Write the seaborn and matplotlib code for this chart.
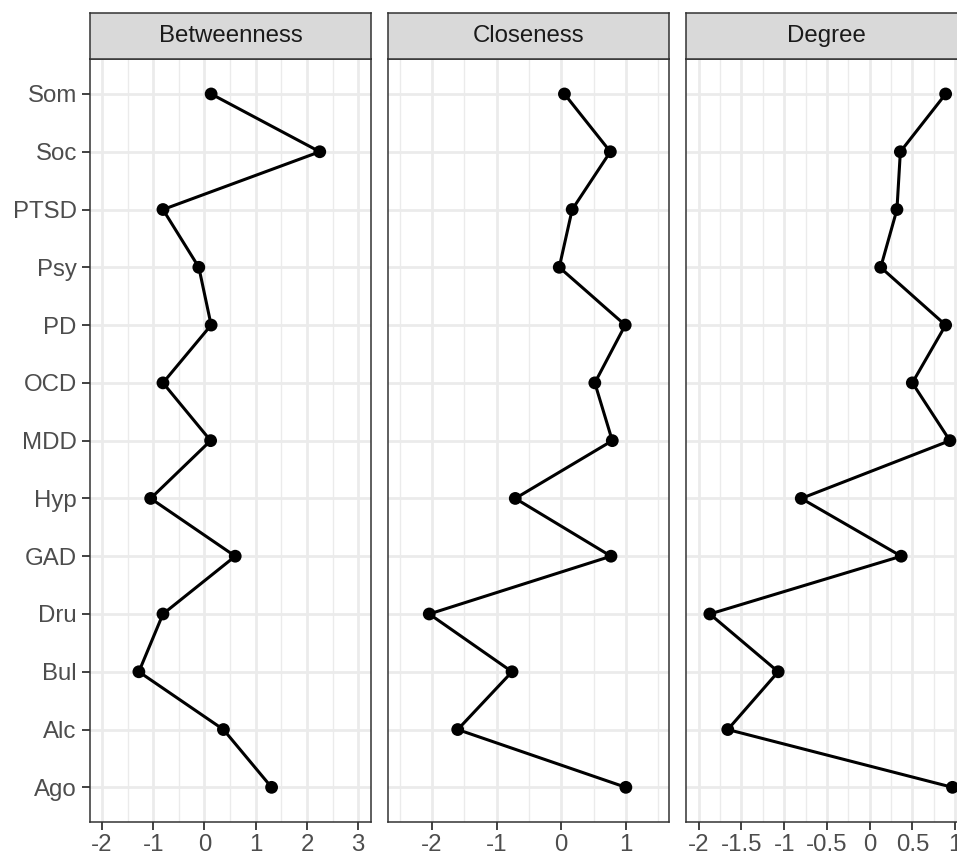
import seaborn as sns
import pandas as pd
import matplotlib.pyplot as plt
from matplotlib.ticker import MultipleLocator, FuncFormatter

# node labels, top to bottom as in the figure
nodes = ["Som", "Soc", "PTSD", "Psy", "PD", "OCD", "MDD", "Hyp", "GAD", "Dru", "Bul", "Alc", "Ago"]

betweenness = [0.13, 2.25, -0.81, -0.11, 0.13, -0.81, 0.12, -1.05, 0.60, -0.81, -1.28, 0.37, 1.31]
closeness = [0.05, 0.76, 0.17, -0.03, 0.99, 0.52, 0.79, -0.71, 0.77, -2.04, -0.76, -1.60, 1.00]
degree = [0.89, 0.36, 0.32, 0.13, 0.89, 0.50, 0.94, -0.80, 0.37, -1.87, -1.07, -1.66, 0.97]

measures = ["Betweenness", "Closeness", "Degree"]
xlims = [(-2.234, 3.25), (-2.678, 1.667), (-2.149, 1.14)]
major_steps = [1, 1, 0.5]

W, H = 957, 856
panel_left = [90, 388, 686]
panel_w = 281
panel_top, panel_bottom = 59.3, 822
strip_top = 13

plt.rcParams["font.family"] = ["Liberation Sans", "DejaVu Sans"]
plt.rcParams["axes.unicode_minus"] = False

rows = []
for m, vals in zip(measures, [betweenness, closeness, degree]):
    for n, v in zip(nodes, vals):
        rows.append({"measure": m, "node": n, "value": v})
data = pd.DataFrame(rows)

fig = plt.figure(figsize=(W / 100, H / 100), dpi=100)
fmt = FuncFormatter(lambda v, p: "%g" % v)

for i, m in enumerate(measures):
    rect = [panel_left[i] / W, (H - panel_bottom) / H,
            panel_w / W, (panel_bottom - panel_top) / H]
    ax = fig.add_axes(rect)
    # reverse so the bottom node gets the first category slot
    sel = data.loc[data["measure"] == m].iloc[::-1]
    sns.lineplot(x="value", y="node", data=sel, estimator=None, sort=False,
                 color="black", linewidth=2.2, ax=ax, zorder=3)
    sns.scatterplot(x="value", y="node", data=sel, color="black", s=85,
                    edgecolor="none", ax=ax, zorder=4)

    ax.set_xlim(*xlims[i])
    ax.set_ylim(-0.6, len(nodes) - 0.4)
    ax.xaxis.set_major_locator(MultipleLocator(major_steps[i]))
    ax.xaxis.set_minor_locator(MultipleLocator(major_steps[i] / 2))
    ax.xaxis.set_major_formatter(fmt)
    ax.set_xlabel("")
    ax.set_ylabel("")
    ax.set_axisbelow(True)
    ax.grid(which="major", color="#EBEBEB", linewidth=2.0)
    ax.grid(which="minor", axis="x", color="#EBEBEB", linewidth=1.0)
    for s in ax.spines.values():
        s.set_color("#333333")
        s.set_linewidth(1.1)
    ax.tick_params(axis="both", which="major", length=5.5, width=1.3, color="#333333",
                   labelcolor="#4D4D4D", labelsize=17.3, pad=3)
    ax.tick_params(axis="x", which="minor", length=0)
    if i > 0:
        ax.tick_params(axis="y", length=0, labelleft=False)
    else:
        ax.tick_params(axis="y", pad=4)

    # facet strip
    srect = [panel_left[i] / W, (H - panel_top) / H, panel_w / W, (panel_top - strip_top) / H]
    sax = fig.add_axes(srect)
    sax.set_facecolor("#D9D9D9")
    sax.set_xticks([])
    sax.set_yticks([])
    for s in sax.spines.values():
        s.set_color("#333333")
        s.set_linewidth(1.1)
    sax.text(0.5, 0.5, m, ha="center", va="center", fontsize=17.3,
             color="#1A1A1A", transform=sax.transAxes)

fig.savefig("out.png", dpi=100)
